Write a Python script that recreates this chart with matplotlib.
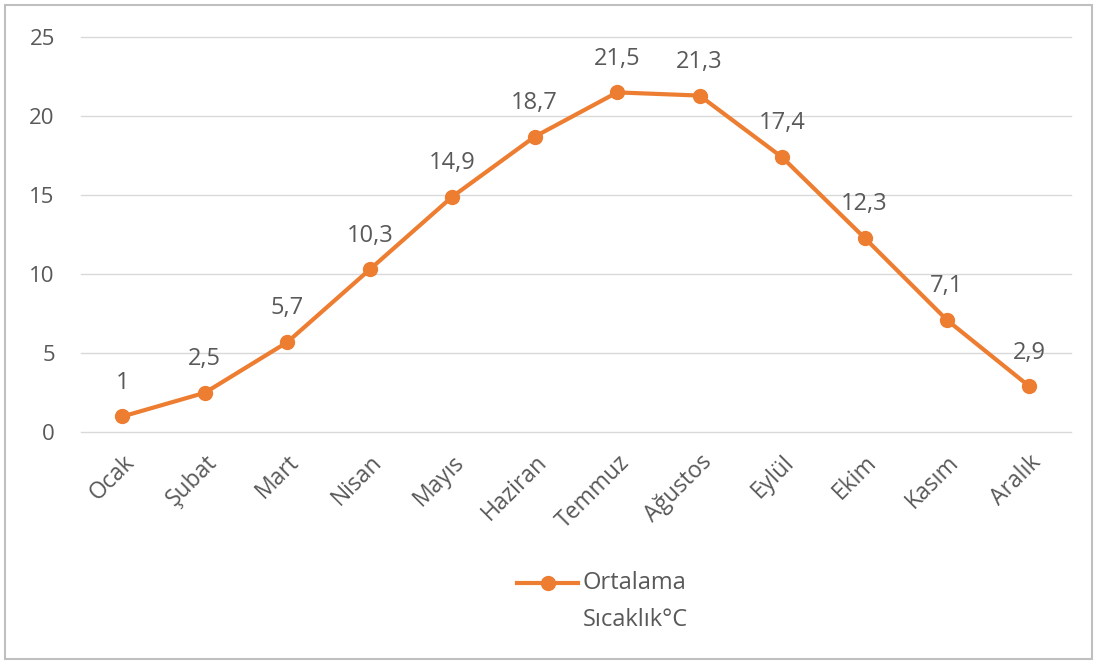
import matplotlib.pyplot as plt
from matplotlib.patches import Rectangle
from matplotlib.lines import Line2D

months = ['Ocak', 'Şubat', 'Mart', 'Nisan', 'Mayıs', 'Haziran',
          'Temmuz', 'Ağustos', 'Eylül', 'Ekim', 'Kasım', 'Aralık']
temps = [1, 2.5, 5.7, 10.3, 14.9, 18.7, 21.5, 21.3, 17.4, 12.3, 7.1, 2.9]
legend_lines = ['Ortalama', 'Sıcaklık°C']

plt.rcParams['font.family'] = ['Open Sans', 'DejaVu Sans']
text_col = '#595959'
orange = '#ED7D31'

fig = plt.figure(figsize=(10.97, 6.62), dpi=100)
ax = fig.add_axes([0.074, 0.347, 0.902, 0.597])

x = list(range(len(months)))
ax.plot(x, temps, color=orange, lw=3, marker='o', markersize=10,
        solid_capstyle='round', zorder=3)

for xi, v in zip(x, temps):
    lbl = ('%g' % v).replace('.', ',')
    ax.annotate(lbl, (xi, v), xytext=(0, 20), textcoords='offset points',
                ha='center', va='baseline', fontsize=17, color=text_col)

ax.set_xlim(-0.5, len(months) - 0.5)
ax.set_ylim(0, 25)
ax.set_yticks([0, 5, 10, 15, 20, 25])
ax.set_xticks(x)
ax.set_xticklabels(months, rotation=45, ha='right', rotation_mode='anchor')
ax.tick_params(axis='x', length=0, labelsize=16.5, colors=text_col, pad=13)
ax.tick_params(axis='y', length=0, labelsize=16, colors=text_col, pad=19)
ax.grid(axis='y', color='#d9d9d9', lw=1)
for gl in ax.get_ygridlines():
    gl.set_clip_on(False)
ax.set_axisbelow(True)
for s in ax.spines.values():
    s.set_visible(False)

# legend drawn by hand: marker sits on the first text line
ly = 1 - 583 / 662
fig.add_artist(Line2D([517 / 1097, 578 / 1097], [ly, ly],
                      color=orange, lw=3, transform=fig.transFigure))
fig.add_artist(Line2D([547.5 / 1097], [ly], color=orange,
                      marker='o', markersize=10, transform=fig.transFigure))
for i, t in enumerate(legend_lines):
    fig.text(583 / 1097, ly - i * 37 / 662, t, fontsize=17, color=text_col,
             ha='left', va='center')

fig.patches.append(Rectangle((0.005, 0.005), 0.99, 0.988, transform=fig.transFigure,
                             fill=False, edgecolor='#bfbfbf', lw=1.5))

fig.savefig('out.png', dpi=100, facecolor='white')
